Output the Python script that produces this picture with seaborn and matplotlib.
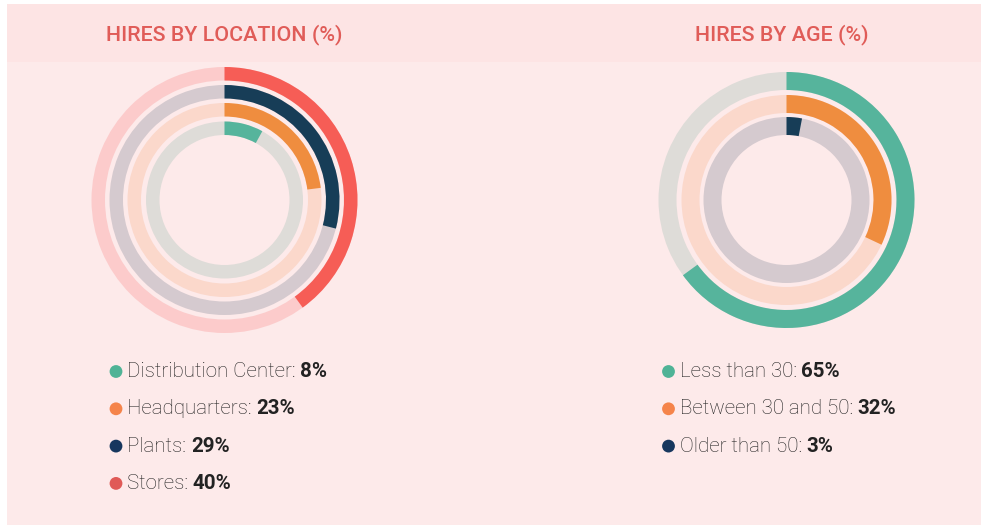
import matplotlib.pyplot as plt
import seaborn as sns
import pandas as pd
from matplotlib.patches import Rectangle

W, H = 981, 525

# data
loc_labels = ["Distribution Center", "Headquarters", "Plants", "Stores"]
loc_values = [8, 23, 29, 40]
age_labels = ["Less than 30", "Between 30 and 50", "Older than 50"]
age_values = [65, 32, 3]

# colours
teal, orange, navy, red = "#56b49c", "#ef8d3f", "#173d57", "#f65d56"
loc_colors = [teal, orange, navy, red]
loc_tracks = ["#dedcd8", "#fbd8cb", "#d5cacf", "#fccbcb"]
loc_dots = ["#4fb396", "#f5844a", "#17375e", "#e05a57"]
age_colors = [teal, orange, navy]
age_tracks = ["#dedcd8", "#fbd8cb", "#d5cacf"]
age_dots = ["#4fb396", "#f5844a", "#17375e"]

sns.set_style("white")
plt.rcParams["font.family"] = ["Roboto", "DejaVu Sans"]

fig = plt.figure(figsize=(W / 100, H / 100), dpi=100)
fig.patch.set_facecolor("white")

# pink panel + title band
fig.patches.append(Rectangle((7 / W, 0), 1, 1 - 4 / H, transform=fig.transFigure,
                             facecolor="#fdeaea", edgecolor="none", zorder=-2))
fig.patches.append(Rectangle((7 / W, 1 - 62 / H), 1, 58 / H, transform=fig.transFigure,
                             facecolor="#fde4e4", edgecolor="none", zorder=-1))


def donut_axes(cx, cy, size=300):
    ax = fig.add_axes([(cx - size / 2) / W, 1 - (cy + size / 2) / H, size / W, size / H])
    ax.set_facecolor("none")
    return ax


def draw_rings(ax, values, colors, tracks, radii, width):
    for v, c, t, r in zip(values, colors, tracks, radii):
        ax.pie([1], radius=r, colors=[t], startangle=90,
               wedgeprops=dict(width=width, linewidth=0))
        ax.pie([v, 100 - v], radius=r, colors=[c, "none"], startangle=90,
               counterclock=False, wedgeprops=dict(width=width, linewidth=0))
    ax.set_xlim(-150, 150)
    ax.set_ylim(-150, 150)
    ax.set_aspect("equal")
    ax.axis("off")


# left: inner ring is Distribution Center, outer is Stores
ax1 = donut_axes(224.5, 200)
draw_rings(ax1, loc_values, loc_colors, loc_tracks, [78.5, 97, 115, 133], 13.5)

# right: outer ring is Less than 30
ax2 = donut_axes(786.5, 200)
draw_rings(ax2, age_values[::-1], age_colors[::-1], age_tracks[::-1], [83, 105, 128], 18)

title_kw = dict(ha="center", va="center", color="#e05c58", fontsize=15.4, fontweight="medium")
fig.text(224.5 / W, 1 - 35 / H, "HIRES BY LOCATION (%)", **title_kw)
fig.text(781.5 / W, 1 - 35 / H, "HIRES BY AGE (%)", **title_kw)

# legends on an overlay axes in pixel units
lax = fig.add_axes([0, 0, 1, 1])
lax.set_xlim(0, W)
lax.set_ylim(H, 0)
lax.axis("off")
lax.set_facecolor("none")


def legend(x0, y0, labels, values, dots, step=37.3):
    df = pd.DataFrame({"label": labels,
                       "x": [x0] * len(labels),
                       "y": [y0 + i * step for i in range(len(labels))]})
    sns.scatterplot(data=df, x="x", y="y", hue="label", palette=dots, s=85,
                    linewidth=0, legend=False, ax=lax)
    renderer = fig.canvas.get_renderer()
    for lab, val, y in zip(labels, values, df["y"]):
        t = lax.text(x0 + 11, y, f"{lab}: ", ha="left", va="center", fontsize=14.8,
                     fontweight="light", color="#222222")
        bb = t.get_window_extent(renderer)
        lax.text(x0 + 11 + bb.width, y, f"{val}%", ha="left", va="center", fontsize=14.8,
                 fontweight="bold", color="#222222")


legend(116, 371.5, loc_labels, loc_values, loc_dots)
legend(668.5, 371.5, age_labels, age_values, age_dots)

fig.savefig("out.png", dpi=100, facecolor=fig.get_facecolor())
